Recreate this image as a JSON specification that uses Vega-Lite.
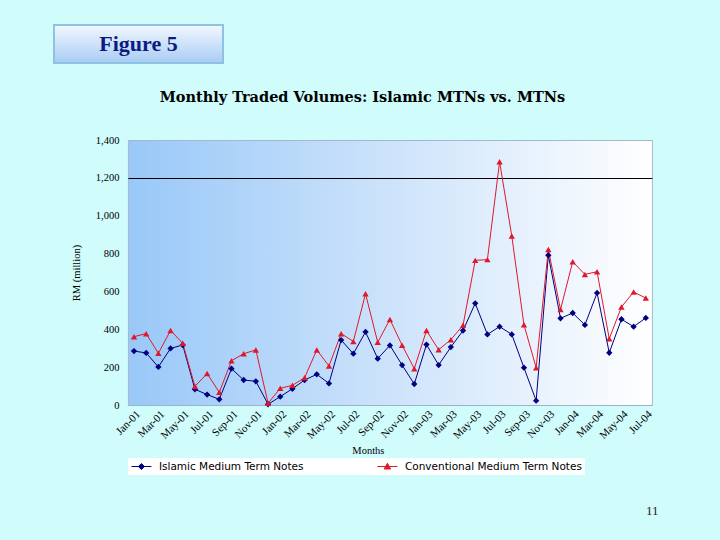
{
  "$schema": "https://vega.github.io/schema/vega-lite/v6.json",
  "background": "#d0fcfc",
  "padding": {"left": 53, "top": 24, "right": 80, "bottom": 40},
  "columns": 1,
  "center": true,
  "spacing": 25,
  "resolve": {"scale": {"color": "independent"}, "legend": {"color": "independent"}},
  "datasets": {
    "fig": [{"label": "Figure 5"}],
    "blank": [{"label": ""}],
    "page": [{"label": "11"}],
    "volumes": [
      {"month": "Jan-01", "Islamic Medium Term Notes": 285, "Conventional Medium Term Notes": 361},
      {"month": "Feb-01", "Islamic Medium Term Notes": 275, "Conventional Medium Term Notes": 377},
      {"month": "Mar-01", "Islamic Medium Term Notes": 201, "Conventional Medium Term Notes": 273},
      {"month": "Apr-01", "Islamic Medium Term Notes": 299, "Conventional Medium Term Notes": 394},
      {"month": "May-01", "Islamic Medium Term Notes": 317, "Conventional Medium Term Notes": 326},
      {"month": "Jun-01", "Islamic Medium Term Notes": 83, "Conventional Medium Term Notes": 99},
      {"month": "Jul-01", "Islamic Medium Term Notes": 55, "Conventional Medium Term Notes": 166},
      {"month": "Aug-01", "Islamic Medium Term Notes": 30, "Conventional Medium Term Notes": 67},
      {"month": "Sep-01", "Islamic Medium Term Notes": 192, "Conventional Medium Term Notes": 234},
      {"month": "Oct-01", "Islamic Medium Term Notes": 132, "Conventional Medium Term Notes": 271},
      {"month": "Nov-01", "Islamic Medium Term Notes": 125, "Conventional Medium Term Notes": 291},
      {"month": "Dec-01", "Islamic Medium Term Notes": 4, "Conventional Medium Term Notes": 9},
      {"month": "Jan-02", "Islamic Medium Term Notes": 44, "Conventional Medium Term Notes": 88},
      {"month": "Feb-02", "Islamic Medium Term Notes": 86, "Conventional Medium Term Notes": 104},
      {"month": "Mar-02", "Islamic Medium Term Notes": 132, "Conventional Medium Term Notes": 144},
      {"month": "Apr-02", "Islamic Medium Term Notes": 162, "Conventional Medium Term Notes": 291},
      {"month": "May-02", "Islamic Medium Term Notes": 114, "Conventional Medium Term Notes": 206},
      {"month": "Jun-02", "Islamic Medium Term Notes": 343, "Conventional Medium Term Notes": 377},
      {"month": "Jul-02", "Islamic Medium Term Notes": 271, "Conventional Medium Term Notes": 336},
      {"month": "Aug-02", "Islamic Medium Term Notes": 386, "Conventional Medium Term Notes": 588},
      {"month": "Sep-02", "Islamic Medium Term Notes": 245, "Conventional Medium Term Notes": 331},
      {"month": "Oct-02", "Islamic Medium Term Notes": 315, "Conventional Medium Term Notes": 452},
      {"month": "Nov-02", "Islamic Medium Term Notes": 211, "Conventional Medium Term Notes": 316},
      {"month": "Dec-02", "Islamic Medium Term Notes": 111, "Conventional Medium Term Notes": 192},
      {"month": "Jan-03", "Islamic Medium Term Notes": 319, "Conventional Medium Term Notes": 393},
      {"month": "Feb-03", "Islamic Medium Term Notes": 211, "Conventional Medium Term Notes": 292},
      {"month": "Mar-03", "Islamic Medium Term Notes": 306, "Conventional Medium Term Notes": 345},
      {"month": "Apr-03", "Islamic Medium Term Notes": 393, "Conventional Medium Term Notes": 421},
      {"month": "May-03", "Islamic Medium Term Notes": 537, "Conventional Medium Term Notes": 764},
      {"month": "Jun-03", "Islamic Medium Term Notes": 373, "Conventional Medium Term Notes": 768},
      {"month": "Jul-03", "Islamic Medium Term Notes": 414, "Conventional Medium Term Notes": 1285},
      {"month": "Aug-03", "Islamic Medium Term Notes": 373, "Conventional Medium Term Notes": 893},
      {"month": "Sep-03", "Islamic Medium Term Notes": 197, "Conventional Medium Term Notes": 424},
      {"month": "Oct-03", "Islamic Medium Term Notes": 23, "Conventional Medium Term Notes": 197},
      {"month": "Nov-03", "Islamic Medium Term Notes": 791, "Conventional Medium Term Notes": 822},
      {"month": "Dec-03", "Islamic Medium Term Notes": 458, "Conventional Medium Term Notes": 504},
      {"month": "Jan-04", "Islamic Medium Term Notes": 486, "Conventional Medium Term Notes": 757},
      {"month": "Feb-04", "Islamic Medium Term Notes": 423, "Conventional Medium Term Notes": 690},
      {"month": "Mar-04", "Islamic Medium Term Notes": 592, "Conventional Medium Term Notes": 704},
      {"month": "Apr-04", "Islamic Medium Term Notes": 276, "Conventional Medium Term Notes": 350},
      {"month": "May-04", "Islamic Medium Term Notes": 453, "Conventional Medium Term Notes": 518},
      {"month": "Jun-04", "Islamic Medium Term Notes": 414, "Conventional Medium Term Notes": 597},
      {"month": "Jul-04", "Islamic Medium Term Notes": 460, "Conventional Medium Term Notes": 565}
    ]
  },
  "concat": [
    {
      "hconcat": [
        {
          "width": 169,
          "height": 38,
          "view": {
            "fill": {"gradient": "linear", "x1": 0, "y1": 0, "x2": 0, "y2": 1, "stops": [{"offset": 0, "color": "#f2f8ff"}, {"offset": 1, "color": "#a8ccf4"}]},
            "stroke": "#8ec2e2",
            "strokeWidth": 2
          },
          "data": {"name": "fig"},
          "mark": {"type": "text", "font": "Liberation Serif", "fontSize": 22, "fontWeight": "bold", "color": "#0b1b82"},
          "encoding": {"text": {"field": "label"}}
        },
        {
          "width": 504,
          "height": 38,
          "view": {"fill": "transparent", "stroke": null},
          "data": {"name": "blank"},
          "mark": {"type": "text"},
          "encoding": {"text": {"field": "label"}}
        }
      ],
      "spacing": 0
    },
    {
      "width": 524,
      "height": 265,
      "title": {
        "text": "Monthly Traded Volumes: Islamic MTNs vs. MTNs",
        "font": "DejaVu Serif",
        "fontSize": 14.5,
        "fontWeight": "bold",
        "color": "#000000",
        "frame": "bounds",
        "anchor": "middle",
        "offset": 30
      },
      "view": {
        "fill": {"gradient": "linear", "x1": 0, "y1": 0, "x2": 1, "y2": 0, "stops": [{"offset": 0, "color": "#99c8f8"}, {"offset": 0.5, "color": "#cde3fb"}, {"offset": 1, "color": "#ffffff"}]},
        "stroke": "#a3b8cc"
      },
      "data": {"name": "volumes"},
      "transform": [{"fold": ["Islamic Medium Term Notes", "Conventional Medium Term Notes"], "as": ["series", "value"]}],
      "encoding": {
        "x": {
          "field": "month",
          "type": "nominal",
          "sort": null,
          "axis": {
            "title": "Months",
            "values": ["Jan-01", "Mar-01", "May-01", "Jul-01", "Sep-01", "Nov-01", "Jan-02", "Mar-02", "May-02", "Jul-02", "Sep-02", "Nov-02", "Jan-03", "Mar-03", "May-03", "Jul-03", "Sep-03", "Nov-03", "Jan-04", "Mar-04", "May-04", "Jul-04"],
            "labelAngle": -45,
            "ticks": false,
            "grid": false,
            "labelFont": "Liberation Serif",
            "labelFontSize": 11,
            "labelColor": "#000000",
            "labelPadding": 3,
            "titleFont": "Liberation Serif",
            "titleFontSize": 10.5,
            "titleFontWeight": "normal",
            "titleColor": "#000000",
            "titlePadding": 5,
            "titleX": 240,
            "domainColor": "#9fb3c8"
          }
        },
        "y": {
          "field": "value",
          "type": "quantitative",
          "scale": {"domain": [0, 1400], "nice": false},
          "axis": {
            "title": "RM (million)",
            "values": [0, 200, 400, 600, 800, 1000, 1200, 1400],
            "format": ",.0f",
            "ticks": false,
            "domain": false,
            "labelFont": "Liberation Serif",
            "labelFontSize": 10.5,
            "labelColor": "#000000",
            "labelPadding": 9,
            "titleFont": "Liberation Serif",
            "titleFontSize": 10.5,
            "titleFontWeight": "normal",
            "titleColor": "#000000",
            "titlePadding": 14,
            "grid": true,
            "gridColor": "#000000",
            "gridWidth": 1,
            "gridOpacity": {"condition": {"test": "datum.value === 1200", "value": 1}, "value": 0}
          }
        }
      },
      "layer": [
        {
          "mark": {"type": "line", "strokeWidth": 1},
          "encoding": {
            "color": {
              "field": "series",
              "type": "nominal",
              "scale": {"domain": ["Islamic Medium Term Notes", "Conventional Medium Term Notes"], "range": ["#000080", "#e0182c"]},
              "legend": {
                "orient": "bottom",
                "direction": "horizontal",
                "title": null,
                "fillColor": "#ffffff",
                "padding": 3,
                "offset": 2,
                "labelFont": "DejaVu Sans",
                "labelFontSize": 10.5,
                "labelColor": "#000000",
                "labelLimit": 300,
                "symbolSize": 100,
                "symbolOffset": 5,
                "labelOffset": 12,
                "columnPadding": 71,
                "encode": {
                  "symbols": {
                    "update": {
                      "shape": {"signal": "datum.value === 'Islamic Medium Term Notes' ? 'M-2,0H2M0,-0.6L0.6,0L0,0.6L-0.6,0Z' : 'M-2,0H2M0,-0.65L0.65,0.5L-0.65,0.5Z'"},
                      "fill": {"signal": "datum.value === 'Islamic Medium Term Notes' ? '#000080' : '#e0182c'"},
                      "stroke": {"signal": "datum.value === 'Islamic Medium Term Notes' ? '#000080' : '#e0182c'"},
                      "strokeWidth": {"value": 1},
                      "opacity": {"value": 1}
                    }
                  }
                }
              }
            }
          }
        },
        {
          "transform": [{"filter": "datum.series === 'Islamic Medium Term Notes'"}],
          "mark": {"type": "point", "shape": "diamond", "filled": true, "size": 40, "opacity": 1, "color": "#000080"}
        },
        {
          "transform": [{"filter": "datum.series === 'Conventional Medium Term Notes'"}],
          "mark": {"type": "point", "shape": "triangle-up", "filled": true, "size": 40, "opacity": 1, "color": "#e0182c"}
        }
      ]
    },
    {
      "width": 535,
      "height": 20,
      "view": {"fill": "transparent", "stroke": null},
      "data": {"name": "page"},
      "mark": {"type": "text", "align": "right", "font": "Liberation Serif", "fontSize": 13, "color": "#222222"},
      "encoding": {"text": {"field": "label"}, "x": {"value": "width"}}
    }
  ]
}
